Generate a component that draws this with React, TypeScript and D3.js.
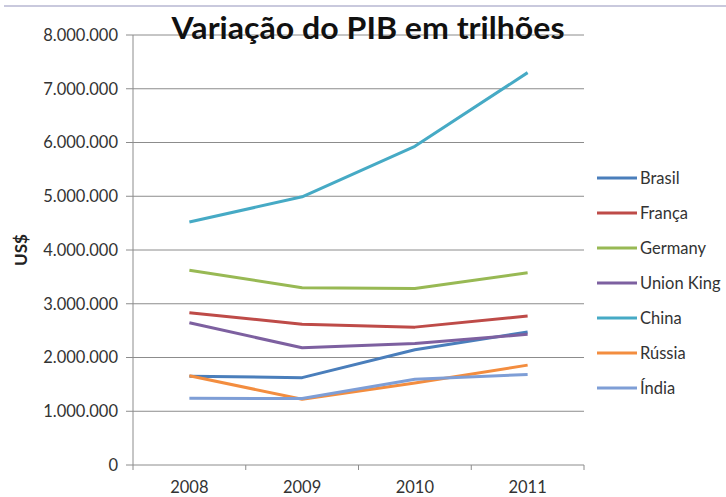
import * as d3 from "d3";

const years = ["2008", "2009", "2010", "2011"];
const countries = ["Brasil", "França", "Germany", "Union King", "China", "Rússia", "Índia"];
const colors = ["#4A7EBB", "#BE4B48", "#98B954", "#7D60A0", "#46AAC5", "#F38D3F", "#7E9ED6"];

const brasil = [1650000, 1625000, 2143000, 2476000];
const franca = [2831000, 2620000, 2565000, 2773000];
const germany = [3624000, 3298000, 3284000, 3577000];
const unionKing = [2648000, 2180000, 2262000, 2431000];
const china = [4520000, 4990000, 5930000, 7300000];
const russia = [1661000, 1223000, 1525000, 1858000];
const india = [1244000, 1236000, 1597000, 1684000];

const series = [brasil, franca, germany, unionKing, china, russia, india];
const yTicks = [0, 1000000, 2000000, 3000000, 4000000, 5000000, 6000000, 7000000, 8000000];

const W = 726;
const H = 497;
const left = 133;
const right = 584;
const top = 35;
const bottom = 465;

const fmt = (v: number) => d3.format(",")(v).replace(/,/g, ".");

export default function App() {
  const x = d3.scaleBand().domain(years).range([left, right]);
  const y = d3.scaleLinear().domain([0, 8000000]).range([bottom, top]);
  const line = d3
    .line<number>()
    .x((_, i) => (x(years[i]) as number) + x.bandwidth() / 2)
    .y((d) => y(d));
  const font = "Lato, 'Open Sans', sans-serif";
  const bounds = [...years.map((yr) => x(yr) as number), right];

  return (
    <svg
      width={W}
      height={H}
      style={{ position: "absolute", left: 0, top: 0, background: "#fff" }}
      fontFamily={font}
    >
      <line x1={4} x2={W} y1={6} y2={6} stroke="#C9C9DD" strokeWidth={2} />

      {yTicks.map((t) => (
        <g key={t}>
          <line x1={left - 7} x2={right} y1={y(t)} y2={y(t)} stroke="#8C8C8C" strokeWidth={1} />
          <text x={118} y={y(t)} dy="0.35em" textAnchor="end" fontSize={16.5} fill="#333">
            {fmt(t)}
          </text>
        </g>
      ))}
      <line x1={left} x2={left} y1={top} y2={bottom} stroke="#8C8C8C" />
      {bounds.map((b, i) => (
        <line key={i} x1={b} x2={b} y1={bottom} y2={bottom + 5} stroke="#8C8C8C" />
      ))}
      {years.map((yr) => (
        <text
          key={yr}
          x={(x(yr) as number) + x.bandwidth() / 2}
          y={493}
          textAnchor="middle"
          fontSize={16.5}
          fill="#333"
        >
          {yr}
        </text>
      ))}

      {series.map((s, i) => (
        <path key={countries[i]} d={line(s) ?? ""} fill="none" stroke={colors[i]} strokeWidth={3} strokeLinejoin="round" />
      ))}

      <text x={368} y={39} textAnchor="middle" fontSize={31} fontWeight="bold" fill="#111" textLength={393} lengthAdjust="spacingAndGlyphs">
        Variação do PIB em trilhões
      </text>

      <text
        transform={`translate(27,${(top + bottom) / 2}) rotate(-90)`}
        textAnchor="middle"
        fontSize={17}
        fontWeight="bold"
        fill="#222"
      >
        US$
      </text>

      {countries.map((c, i) => {
        const ly = 178 + i * 35;
        return (
          <g key={c}>
            <line x1={597} x2={637} y1={ly} y2={ly} stroke={colors[i]} strokeWidth={3} />
            <text x={640} y={ly} dy="0.35em" fontSize={16.5} fill="#333">
              {c}
            </text>
          </g>
        );
      })}
    </svg>
  );
}
